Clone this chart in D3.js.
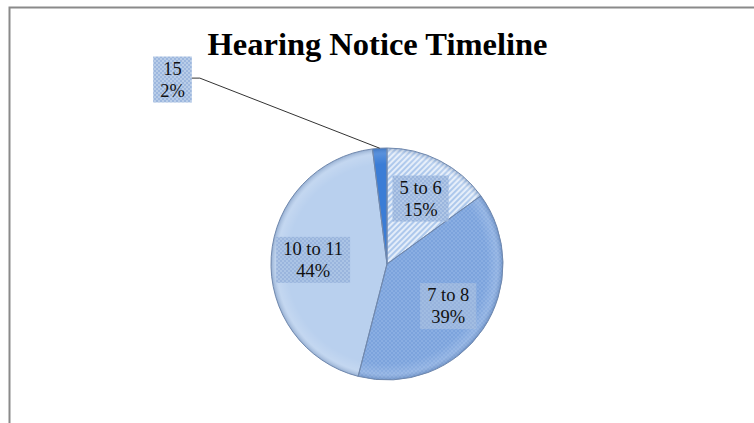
<!DOCTYPE html>
<html>
<head>
<meta charset="utf-8">
<script src="https://cdn.jsdelivr.net/npm/d3@7"></script>
<style>
  body { margin: 0; background: #fff; }
  svg { display: block; }
  text { font-family: "Liberation Serif", "Times New Roman", serif; }
</style>
</head>
<body>
<script>
var width = 754;
var height = 423;

// data (percent of hearings)
var categories = ["5 to 6", "7 to 8", "10 to 11", "15"];
var shares = [15, 39, 44, 2];
var percentLabels = ["15%", "39%", "44%", "2%"];

var center = {x: 387, y: 264};
var RADIUS = 116;
var LABEL_R = 74;

var svg = d3.select("body").append("svg")
    .attr("width", width)
    .attr("height", height);

var defs = svg.append("defs");

// diagonal stripes for "5 to 6"
var stripes = defs.append("pattern")
    .attr("id", "stripes")
    .attr("patternUnits", "userSpaceOnUse")
    .attr("width", 4).attr("height", 4)
    .attr("patternTransform", "rotate(45)");
stripes.append("rect").attr("width", 4).attr("height", 4).attr("fill", "#e4edf9");
stripes.append("rect").attr("width", 2).attr("height", 4).attr("fill", "#adc8ec");

// soft texture for "7 to 8"
var checker = defs.append("pattern")
    .attr("id", "checker")
    .attr("patternUnits", "userSpaceOnUse")
    .attr("width", 4).attr("height", 4);
checker.append("rect").attr("width", 4).attr("height", 4).attr("fill", "#8aaee2");
checker.append("rect").attr("width", 2).attr("height", 2).attr("fill", "#7ca3dc");
checker.append("rect").attr("x", 2).attr("y", 2).attr("width", 2).attr("height", 2).attr("fill", "#7ca3dc");

// texture for label boxes
var boxPat = defs.append("pattern")
    .attr("id", "boxpat")
    .attr("patternUnits", "userSpaceOnUse")
    .attr("width", 4).attr("height", 4);
boxPat.append("rect").attr("width", 4).attr("height", 4).attr("fill", "rgba(168,192,226,0.8)");
boxPat.append("rect").attr("width", 2).attr("height", 2).attr("fill", "rgba(150,178,220,0.8)");
boxPat.append("rect").attr("x", 2).attr("y", 2).attr("width", 2).attr("height", 2).attr("fill", "rgba(150,178,220,0.8)");

// bevel-ish shading at the rim of the pie
var shade = defs.append("radialGradient")
    .attr("id", "shade")
    .attr("gradientUnits", "userSpaceOnUse")
    .attr("cx", 0).attr("cy", 0).attr("r", RADIUS);
shade.append("stop").attr("offset", "0.86").attr("stop-color", "#fff").attr("stop-opacity", 0);
shade.append("stop").attr("offset", "0.95").attr("stop-color", "#fff").attr("stop-opacity", 0.15);
shade.append("stop").attr("offset", "1").attr("stop-color", "#3a5a8a").attr("stop-opacity", 0.3);

var sliceFills = ["url(#stripes)", "url(#checker)", "#b9d0ee", "#3b7dd6"];

// outer frame of the chart area
svg.append("rect")
    .attr("x", 9.5).attr("y", 7.5)
    .attr("width", 780).attr("height", 440)
    .attr("fill", "none")
    .attr("stroke", "#8a8a8a")
    .attr("stroke-width", 2);

svg.append("text")
    .attr("x", 377.5)
    .attr("y", 55)
    .attr("text-anchor", "middle")
    .attr("font-weight", "bold")
    .attr("font-size", "32.5px")
    .attr("fill", "#000")
    .text("Hearing Notice Timeline");

var pie = d3.pie().sort(null).value(d => d);
var arcs = pie(shares);

var arc = d3.arc().innerRadius(0).outerRadius(RADIUS);
var labelArc = d3.arc().innerRadius(LABEL_R).outerRadius(LABEL_R);
var edgeArc = d3.arc().innerRadius(RADIUS).outerRadius(RADIUS);

var g = svg.append("g")
    .attr("transform", "translate(" + center.x + "," + center.y + ")");

g.selectAll("path.slice")
    .data(arcs)
    .enter()
    .append("path")
    .attr("class", "slice")
    .attr("d", arc)
    .attr("fill", (d, i) => sliceFills[i]);

g.selectAll("path.shade")
    .data(arcs)
    .enter()
    .append("path")
    .attr("class", "shade")
    .attr("d", arc)
    .attr("fill", "url(#shade)")
    .attr("stroke", "#7088ad")
    .attr("stroke-width", 1);

function drawLabel(x, y, lines) {
    var lg = svg.append("g");
    var box = lg.append("rect").attr("fill", "url(#boxpat)");
    var t = lg.append("text")
        .attr("text-anchor", "middle")
        .attr("font-size", "18.5px")
        .attr("fill", "#111");
    lines.forEach(function(s, k) {
        t.append("tspan")
            .attr("x", x)
            .attr("y", y + (k - 0.5) * 22 + 6.5)
            .text(s);
    });
    var bb = t.node().getBBox();
    box.attr("x", bb.x - 7).attr("y", bb.y - 2)
        .attr("width", bb.width + 14).attr("height", bb.height + 4);
    return {x: bb.x - 7, y: bb.y - 2, w: bb.width + 14, h: bb.height + 4};
}

arcs.forEach(function(d, i) {
    if (shares[i] < 5) return;
    var c = labelArc.centroid(d);
    drawLabel(center.x + c[0], center.y + c[1], [categories[i], percentLabels[i]]);
});

// the small slice gets an outside label with a leader line
arcs.forEach(function(d, i) {
    if (shares[i] >= 5) return;
    var b = drawLabel(172.5, 79, [categories[i], percentLabels[i]]);
    var e = edgeArc.centroid(d);
    var yMid = b.y + b.h * 0.47;
    svg.append("polyline")
        .attr("points", [
            [b.x + b.w, yMid], [b.x + b.w + 8, yMid],
            [center.x + e[0], center.y + e[1]]
        ].map(p => p.join(",")).join(" "))
        .attr("fill", "none")
        .attr("stroke", "#333")
        .attr("stroke-width", 1);
});
</script>
</body>
</html>
